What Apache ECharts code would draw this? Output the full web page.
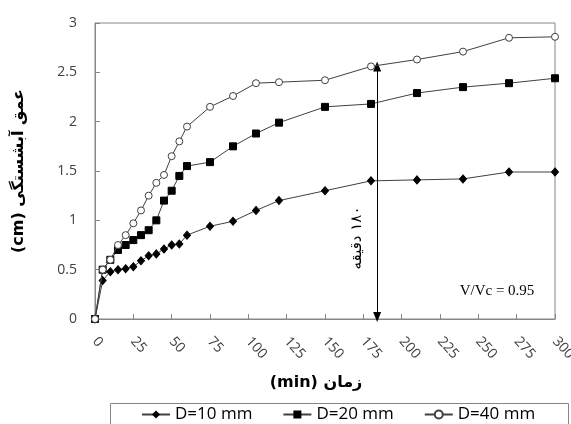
<!DOCTYPE html>
<html>
<head>
<meta charset="utf-8">
<script src="https://cdn.jsdelivr.net/npm/echarts@6/dist/echarts.min.js"></script>
<style>
  html, body { margin: 0; padding: 0; background: #fff; }
  #chart { width: 571px; height: 424px; }
</style>
</head>
<body>
<div id="chart"></div>
<script>
// Time (min) at which scour depth was measured
const timeMin = [0, 5, 10, 15, 20, 25, 30, 35, 40, 45, 50, 55, 60, 75, 90, 105, 120, 150, 180, 210, 240, 270, 300];

// Scour depth (cm) for each pier diameter
const depthD10 = [0, 0.39, 0.48, 0.50, 0.51, 0.53, 0.59, 0.64, 0.66, 0.71, 0.75, 0.76, 0.85, 0.94, 0.99, 1.10, 1.20, 1.30, 1.40, 1.41, 1.42, 1.49, 1.49];
const depthD20 = [0, 0.50, 0.60, 0.70, 0.75, 0.80, 0.85, 0.90, 1.00, 1.20, 1.30, 1.45, 1.55, 1.59, 1.75, 1.88, 1.99, 2.15, 2.18, 2.29, 2.35, 2.39, 2.44];
const depthD40 = [0, 0.50, 0.60, 0.75, 0.85, 0.97, 1.10, 1.25, 1.38, 1.46, 1.65, 1.80, 1.95, 2.15, 2.26, 2.39, 2.40, 2.42, 2.56, 2.63, 2.71, 2.85, 2.86];

const seriesNames = ['D=10 mm', 'D=20 mm', 'D=40 mm'];

// Vertical marker for the 180-minute point
const markerTime = 184;
const markerFrom = 0.02;
const markerTo = 2.56;

const pairs = ys => timeMin.map((t, i) => [t, ys[i]]);

const chart = echarts.init(document.getElementById('chart'));

const lineStyle = { color: '#404040', width: 1 };
const labelFont = 'Open Sans, Noto Sans, DejaVu Sans, sans-serif';

chart.setOption({
  animation: false,
  backgroundColor: '#fff',
  grid: {
    left: 95, right: 16, top: 23, bottom: 105,
    outerBoundsMode: 'none', containLabel: false,
    show: true, borderColor: '#868686', borderWidth: 1, backgroundColor: 'transparent'
  },
  xAxis: {
    type: 'value', min: 0, max: 300, interval: 25,
    name: '(min) زمان',
    nameLocation: 'middle', nameGap: 56,
    nameTextStyle: { fontSize: 16, fontWeight: 'bold', color: '#000', fontFamily: 'DejaVu Sans, sans-serif', padding: [0, 18, 0, 0] },
    axisLine: { lineStyle: { color: '#868686' } },
    axisTick: { inside: true, length: 5, lineStyle: { color: '#868686' } },
    axisLabel: { rotate: -48, fontSize: 14, color: '#404040', fontFamily: labelFont, margin: 20 },
    splitLine: { show: false }
  },
  yAxis: {
    type: 'value', min: 0, max: 3, interval: 0.5,
    name: '(cm) عمق آبشستگی',
    nameLocation: 'middle', nameGap: 68,
    nameTextStyle: { fontSize: 16, fontWeight: 'bold', color: '#000', fontFamily: 'DejaVu Sans, sans-serif' },
    axisLine: { show: true, lineStyle: { color: '#868686' } },
    axisTick: { show: true, inside: true, length: 5, lineStyle: { color: '#868686' } },
    axisLabel: { fontSize: 14, color: '#404040', fontFamily: labelFont, margin: 18 },
    splitLine: { show: false }
  },
  legend: {
    data: seriesNames,
    left: 141, top: 406,
    itemGap: 30, itemWidth: 28, itemHeight: 10,
    textStyle: { fontSize: 17, color: '#000', fontFamily: labelFont },
    padding: 0
  },
  graphic: [
    {
      type: 'rect', left: 110, top: 403, z: 0,
      shape: { width: 458, height: 40 },
      style: { fill: '#fff', stroke: '#868686', lineWidth: 1 }
    },
    {
      type: 'text', x: 497, y: 291, z: 10,
      style: {
        text: 'V/Vc = 0.95', fill: '#000',
        font: '15px "Liberation Serif", "DejaVu Serif", serif',
        align: 'center', verticalAlign: 'middle'
      }
    },
    {
      type: 'text', x: 357, y: 238, rotation: Math.PI / 2, z: 10,
      style: {
        text: '\u202B۱۸۰ دقیقه\u202C', fill: '#000',
        font: '15px "DejaVu Sans", sans-serif',
        align: 'center', verticalAlign: 'middle'
      }
    }
  ],
  series: [
    {
      name: seriesNames[0], type: 'line', data: pairs(depthD10),
      symbol: 'diamond', symbolSize: [7, 8], showAllSymbol: true,
      itemStyle: { color: '#000', borderColor: '#000' },
      lineStyle: lineStyle, z: 3
    },
    {
      name: seriesNames[1], type: 'line', data: pairs(depthD20),
      symbol: 'rect', symbolSize: 7, showAllSymbol: true,
      itemStyle: { color: '#000', borderColor: '#000' },
      lineStyle: lineStyle, z: 4,
      markLine: {
        silent: true, symbol: ['triangle', 'triangle'], symbolSize: [8, 10],
        lineStyle: { color: '#000', width: 1, type: 'solid' },
        label: { show: false },
        data: [[{ coord: [markerTime, markerFrom] }, { coord: [markerTime, markerTo] }]]
      }
    },
    {
      name: seriesNames[2], type: 'line', data: pairs(depthD40),
      symbol: 'circle', symbolSize: 7, showAllSymbol: true,
      itemStyle: { color: '#fff', borderColor: '#404040', borderWidth: 1 },
      lineStyle: lineStyle, z: 5
    }
  ]
});
</script>
</body>
</html>
